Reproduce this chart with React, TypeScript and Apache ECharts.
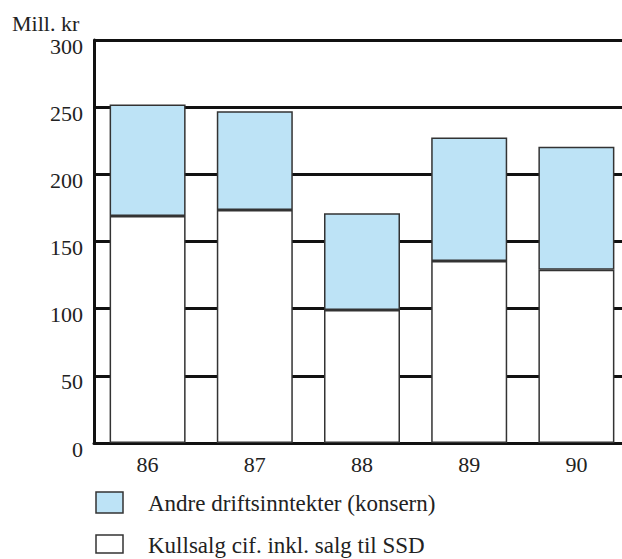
import React, { useEffect, useRef } from "react";
import * as echarts from "echarts";

const categories = ["86", "87", "88", "89", "90"];
const kullsalg = [169, 173.5, 99, 135.5, 129];
const andre = [83, 73.5, 72, 92, 91.5];
const yTicks = [0, 50, 100, 150, 200, 250, 300];

const FONT = "Liberation Serif, Times New Roman, serif";
const BLUE = "#bde3f6";

export default function App() {
  const ref = useRef<HTMLDivElement>(null);
  useEffect(() => {
    document.body.style.margin = "0";
    document.body.style.overflow = "hidden";
    const chart = echarts.init(ref.current!, undefined, { renderer: "svg" });
    chart.setOption({
      animation: false,
      backgroundColor: "#ffffff",
      textStyle: { fontFamily: FONT },
      grid: { left: 94, top: 40, right: 10, height: 403 },
      xAxis: {
        type: "category",
        data: categories,
        axisLine: { show: true, lineStyle: { color: "#111", width: 3 } },
        axisTick: { show: false },
        axisLabel: { color: "#222", fontSize: 22, fontFamily: FONT, margin: 10 },
        splitLine: { show: false },
      },
      yAxis: {
        type: "value",
        min: yTicks[0],
        max: yTicks[yTicks.length - 1],
        interval: 50,
        axisLine: { show: true, lineStyle: { color: "#111", width: 3 } },
        axisTick: { show: false },
        axisLabel: {
          color: "#222",
          fontSize: 22,
          fontFamily: FONT,
          margin: 11,
          verticalAlign: "top",
          lineHeight: 12,
        },
        splitLine: { show: true, lineStyle: { color: "#111", width: 3 } },
      },
      series: [
        {
          name: "Kullsalg cif. inkl. salg til SSD",
          type: "bar",
          stack: "total",
          data: kullsalg,
          barWidth: 76,
          itemStyle: { color: "#ffffff", borderColor: "#333", borderWidth: 1.5 },
        },
        {
          name: "Andre driftsinntekter (konsern)",
          type: "bar",
          stack: "total",
          data: andre,
          barWidth: 76,
          itemStyle: { color: BLUE, borderColor: "#333", borderWidth: 1.5 },
        },
      ],
      graphic: [
        {
          type: "text",
          x: 12,
          y: 23,
          style: {
            text: "Mill. kr",
            fontSize: 22,
            fontFamily: FONT,
            fill: "#222",
            verticalAlign: "middle",
          },
        },
        {
          type: "rect",
          shape: { x: 96, y: 492, width: 27, height: 21 },
          style: { fill: BLUE, stroke: "#333", lineWidth: 1.5 },
        },
        {
          type: "text",
          x: 148,
          y: 503,
          style: {
            text: "Andre driftsinntekter (konsern)",
            fontSize: 23,
            fontFamily: FONT,
            fill: "#222",
            verticalAlign: "middle",
          },
        },
        {
          type: "rect",
          shape: { x: 96, y: 535, width: 27, height: 18 },
          style: { fill: "#fff", stroke: "#333", lineWidth: 1.5 },
        },
        {
          type: "text",
          x: 148,
          y: 545,
          style: {
            text: "Kullsalg cif. inkl. salg til SSD",
            fontSize: 23,
            fontFamily: FONT,
            fill: "#222",
            verticalAlign: "middle",
          },
        },
      ],
    });
    return () => chart.dispose();
  }, []);
  return (
    <div
      style={{
        position: "absolute",
        left: 0,
        top: 0,
        width: 622,
        height: 559,
        overflow: "hidden",
      }}
    >
      <div ref={ref} style={{ width: 640, height: 559 }} />
    </div>
  );
}
